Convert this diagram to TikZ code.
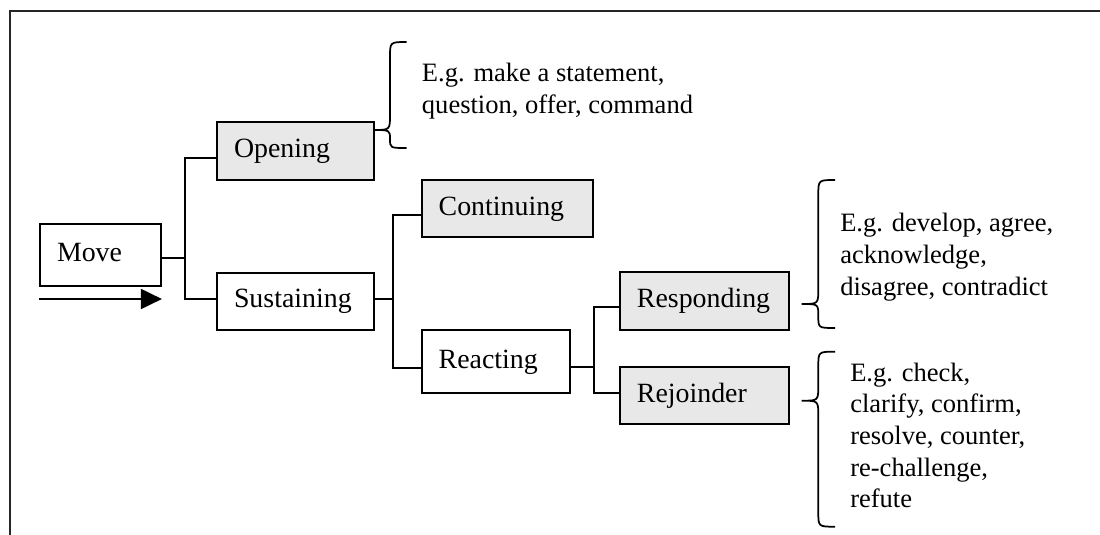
\documentclass[tikz,border=0pt]{standalone}
\usepackage{fontspec}
\setmainfont{Liberation Serif}
\usetikzlibrary{arrows.meta}

\tikzset{
  box/.style={draw, line width=1.4pt, inner xsep=12.75pt, inner ysep=0pt,
    text height=14.5pt, text depth=4.5pt, align=left,
    font=\fontsize{20.9pt}{25pt}\selectfont},
  shaded/.style={box, fill=black!9},
  plain/.style={box, fill=white},
  conn/.style={line width=1.4pt},
  brace/.style={line width=1.3pt},
  note/.style={inner sep=0pt, anchor=north west, align=left,
    font=\fontsize{19.9pt}{23.75pt}\selectfont},
  frameline/.style={line width=1.6pt, black!85}
}

\begin{document}
\begin{tikzpicture}[x=0.75pt, y=-0.75pt]
\useasboundingbox (0,0) rectangle (1100,535);

% open frame: top and left sides only
\draw[frameline] (1100,11) -- (10,11) -- (10,535);

% boxes
\node[plain,  minimum width=90.75pt,  minimum height=46.5pt, text width=65.25pt]  (move) at (100.5,255)   {Move};
\node[shaded, minimum width=117.75pt, minimum height=43.5pt, text width=92.25pt]  (open) at (295.5,151)   {Opening};
\node[plain,  minimum width=117.75pt, minimum height=43pt,   text width=92.25pt]  (sust) at (295.5,301.3) {Sustaining};
\node[shaded, minimum width=128.25pt, minimum height=43pt,   text width=102.75pt] (cont) at (507.2,208.7) {Continuing};
\node[plain,  minimum width=111.2pt,  minimum height=47pt,   text width=85.7pt]   (reac) at (495.85,361.35) {Reacting};
\node[shaded, minimum width=127pt,    minimum height=43.3pt, text width=101.5pt]  (resp) at (704.65,301.15) {Responding};
\node[shaded, minimum width=127pt,    minimum height=42.5pt, text width=101.5pt]  (rejo) at (704.65,395.65) {Rejoinder};

% flow arrow under Move
\coordinate (arrs) at (move.south west |- 0,299);
\coordinate (arre) at (move.south east |- 0,299);
\draw[line width=1.4pt, -{Triangle[length=15.75pt,width=15pt]}] (arrs) -- (arre);

% tree connectors
\draw[conn] ([yshift=-2.25pt]move.east) -- ++(23,0) coordinate (j1);
\draw[conn] ([yshift=-5.25pt]open.west) -| (j1) |- ([yshift=1.7pt]sust.west);

\draw[conn] ([yshift=1.7pt]sust.east) -- ++(18,0) coordinate (j2);
\draw[conn] ([yshift=-4.7pt]cont.west) -| (j2) |- ([yshift=-4.7pt]reac.west);

\draw[conn] ([yshift=-4.5pt]reac.east) -- ++(22.7,0) coordinate (j3);
\draw[conn] ([yshift=-4.1pt]resp.west) -| (j3) |- ([yshift=2.2pt]rejo.west);

% braces
\draw[brace] (406.7,42) .. controls (390,42) .. (390,57) -- (390,115)
  .. controls (390,130) .. (373,130) .. controls (390,130) .. (390,139)
  .. controls (390,148) .. (406.7,148);
\draw[brace] (835,180) .. controls (818.3,180) .. (818.3,195) -- (818.3,289)
  .. controls (818.3,304) .. (801.7,304) .. controls (818.3,304) .. (818.3,316)
  .. controls (818.3,328) .. (835,328);
\draw[brace] (835,351.7) .. controls (818.3,351.7) .. (818.3,366.7) -- (818.3,385.7)
  .. controls (818.3,400.7) .. (801.7,400.7) .. controls (818.3,400.7) .. (818.3,415.7)
  -- (818.3,511.7) .. controls (818.3,526.7) .. (835,526.7);

% examples
\node[note] (ex1) at (421.7,63) {E.g. make a statement,\\question, offer, command};
\node[note] (ex2) at (840,213) {E.g. develop, agree,\\acknowledge,\\disagree, contradict};
\node[note] (ex3) at (850,362.5) {E.g. check,\\clarify, confirm,\\resolve, counter,\\re-challenge,\\refute};
\end{tikzpicture}
\end{document}
